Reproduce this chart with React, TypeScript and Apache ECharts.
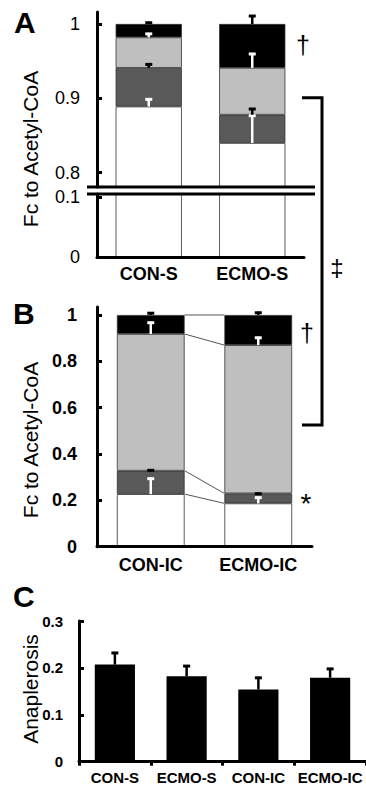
import React, { useEffect, useRef } from "react";
import * as echarts from "echarts";

// ---------- Data ----------
const catA = ["CON-S", "ECMO-S"];
const catB = ["CON-IC", "ECMO-IC"];
const catC = ["CON-S", "ECMO-S", "CON-IC", "ECMO-IC"];

// Panel A segment fractions (bottom -> top): white, dark gray, light gray, black
const whiteA = [0.889, 0.84];
const darkA = [0.052, 0.038];
const lightA = [0.041, 0.063];
const blackA = [0.018, 0.059];
const whiteErrA = [0.011, 0.038];
const darkErrA = [0.006, 0.009];
const lightErrA = [0.006, 0.02];
const blackErrA = [0.003, 0.012];

// Panel B
const whiteB = [0.227, 0.187];
const darkB = [0.101, 0.043];
const lightB = [0.59, 0.64];
const blackB = [0.082, 0.13];
const whiteErrB = [0.071, 0.029];
const darkErrB = [0.006, 0.003];
const lightErrB = [0.053, 0.036];
const blackErrB = [0.012, 0.014];

// Panel C
const anaplerosis = [0.207, 0.182, 0.154, 0.179];
const anaplerosisErr = [0.027, 0.024, 0.027, 0.021];

// Tick labels
const ticksAUpper = [0.8, 0.9, 1];
const ticksALower = [0, 0.1];
const ticksB = [0, 0.2, 0.4, 0.6, 0.8, 1];
const ticksC = [0, 0.1, 0.2, 0.3];

const FONT = '"Liberation Sans", Arial, Helvetica, sans-serif';
const WHITE = "#ffffff";
const DARK = "#595959";
const LIGHT = "#bfbfbf";
const BLACK = "#000000";

function buildErrors(
  segs: number[][],
  errs: number[][],
  colors: number[]
): number[][] {
  const out: number[][] = [];
  const n = segs[0].length;
  for (let i = 0; i < n; i++) {
    let cum = 0;
    for (let s = 0; s < segs.length; s++) {
      cum += segs[s][i];
      out.push([i, cum, cum + errs[s][i], colors[s]]);
    }
  }
  return out;
}

function cumTops(segs: number[][], i: number): number[] {
  const r: number[] = [];
  let c = 0;
  for (let s = 0; s < segs.length; s++) {
    c += segs[s][i];
    r.push(c);
  }
  return r;
}

const errRender = (capHalf: number) => (params: any, api: any) => {
  const cat = api.value(0);
  const lo = api.value(1);
  const hi = api.value(2);
  const c = api.value(3);
  const p0 = api.coord([cat, lo]);
  const p1 = api.coord([cat, hi]);
  const color = c ? BLACK : WHITE;
  return {
    type: "group",
    children: [
      {
        type: "line",
        shape: { x1: p0[0], y1: p0[1], x2: p1[0], y2: p1[1] },
        style: { stroke: color, lineWidth: 2.5 },
      },
      {
        type: "line",
        shape: { x1: p1[0] - capHalf, y1: p1[1] + 1, x2: p1[0] + capHalf, y2: p1[1] + 1 },
        style: { stroke: color, lineWidth: 3 },
      },
    ],
  };
};

export default function App() {
  const ref = useRef<HTMLDivElement>(null);
  useEffect(() => {
    if (!ref.current) return;
    const chart = echarts.init(ref.current, null, { renderer: "svg" });

    const segsA = [whiteA, darkA, lightA, blackA];
    const errsA = [whiteErrA, darkErrA, lightErrA, blackErrA];
    const segsB = [whiteB, darkB, lightB, blackB];
    const errsB = [whiteErrB, darkErrB, lightErrB, blackErrB];
    const errColors = [0, 1, 0, 1];
    const errDataA = buildErrors(segsA, errsA, errColors);
    const errDataB = buildErrors(segsB, errsB, errColors);
    const t0 = cumTops(segsB, 0);
    const t1 = cumTops(segsB, 1);
    const connData = t0.map((v, k) => [v, t1[k]]);
    const errDataC = anaplerosis.map((v, i) => [i, v, v + anaplerosisErr[i], 1]);

    const fmt = (v: number) => String(Math.round(v * 100) / 100);

    const yBase = (extra: any) => ({
      type: "value",
      splitLine: { show: false },
      axisLine: { show: true, lineStyle: { color: BLACK, width: 3 } },
      ...extra,
    });

    const barStyle = (color: string) => ({
      color,
      borderColor: "#333",
      borderWidth: 0.8,
    });

    const stacked = (
      names: string[],
      segs: number[][],
      colors: string[],
      xi: number,
      stack: string,
      bw: string
    ) =>
      segs.map((d, s) => ({
        type: "bar",
        name: names[s],
        xAxisIndex: xi,
        yAxisIndex: xi,
        stack,
        data: d,
        barWidth: bw,
        itemStyle: barStyle(colors[s]),
        silent: true,
      }));

    const segNames = ["white", "dark", "light", "black"];
    const segColors = [WHITE, DARK, LIGHT, BLACK];

    const option: any = {
      animation: false,
      grid: [
        { left: 97, top: 12, width: 207, height: 175 },
        { left: 97, top: 194, width: 207, height: 63 },
        { left: 97, top: 307, width: 215, height: 239.7 },
        { left: 79, top: 621, width: 287, height: 140.7 },
      ],
      xAxis: [
        { gridIndex: 0, type: "category", data: catA, show: false },
        {
          gridIndex: 1,
          type: "category",
          data: catA,
          z: 5,
          axisLine: { lineStyle: { color: BLACK, width: 3 } },
          axisTick: { show: false },
          axisLabel: { color: BLACK, fontSize: 18, fontWeight: "bold", fontFamily: FONT, margin: 8, interval: 0 },
        },
        {
          gridIndex: 2,
          type: "category",
          data: catB,
          z: 5,
          axisLine: { lineStyle: { color: BLACK, width: 3 } },
          axisTick: { show: false },
          axisLabel: { color: BLACK, fontSize: 18, fontWeight: "bold", fontFamily: FONT, margin: 9, interval: 0 },
        },
        {
          gridIndex: 3,
          type: "category",
          data: catC,
          z: 5,
          axisLine: { lineStyle: { color: BLACK, width: 3 } },
          axisTick: { show: true, length: 4, interval: 0, lineStyle: { color: BLACK, width: 3 } },
          axisLabel: { color: BLACK, fontSize: 15, fontWeight: "bold", fontFamily: FONT, margin: 8, interval: 0, hideOverlap: false },
        },
      ],
      yAxis: [
        yBase({
          gridIndex: 0,
          min: 0.7808,
          max: 1.0161,
          axisTick: { show: true, inside: true, length: 5, customValues: ticksAUpper, lineStyle: { color: BLACK, width: 3 } },
          axisLabel: { customValues: ticksAUpper, formatter: fmt, color: BLACK, fontSize: 18, fontFamily: FONT, margin: 17 },
        }),
        yBase({
          gridIndex: 1,
          min: 0,
          max: 0.105,
          axisTick: { show: true, inside: true, length: 5, customValues: [0.1], lineStyle: { color: BLACK, width: 3 } },
          axisLabel: { customValues: ticksALower, formatter: fmt, color: BLACK, fontSize: 18, fontFamily: FONT, margin: 17 },
        }),
        yBase({
          gridIndex: 2,
          min: 0,
          max: 1.0345,
          axisTick: { show: true, inside: true, length: 5, customValues: ticksB, lineStyle: { color: BLACK, width: 3 } },
          axisLabel: { customValues: ticksB, formatter: fmt, color: BLACK, fontSize: 18, fontWeight: "bold", fontFamily: FONT, margin: 20 },
        }),
        yBase({
          gridIndex: 3,
          min: 0,
          max: 0.3,
          axisTick: { show: true, inside: true, length: 5, customValues: ticksC, lineStyle: { color: BLACK, width: 3 } },
          axisLabel: { customValues: ticksC, formatter: fmt, color: BLACK, fontSize: 15, fontWeight: "bold", fontFamily: FONT, margin: 16 },
        }),
      ],
      series: [
        ...stacked(segNames, segsA, segColors, 0, "a", "64%"),
        {
          type: "bar",
          name: "whiteLower",
          xAxisIndex: 1,
          yAxisIndex: 1,
          data: whiteA,
          barWidth: "64%",
          itemStyle: barStyle(WHITE),
          silent: true,
        },
        {
          type: "custom",
          name: "errA",
          xAxisIndex: 0,
          yAxisIndex: 0,
          data: errDataA,
          encode: { x: 0, y: 1 },
          renderItem: errRender(3.5),
          z: 4,
          silent: true,
        },
        ...stacked(segNames, segsB, segColors, 2, "b", "63%"),
        {
          type: "custom",
          name: "connB",
          xAxisIndex: 2,
          yAxisIndex: 2,
          data: connData,
          encode: { y: [0, 1] },
          renderItem: (params: any, api: any) => {
            const v0 = api.value(0);
            const v1 = api.value(1);
            const p0 = api.coord([0, v0]);
            const p1 = api.coord([1, v1]);
            const half = (api.size([1, 0])[0] * 0.63) / 2;
            return {
              type: "line",
              shape: { x1: p0[0] + half, y1: p0[1], x2: p1[0] - half, y2: p1[1] },
              style: { stroke: "#555", lineWidth: 1 },
            };
          },
          z: 3,
          silent: true,
        },
        {
          type: "custom",
          name: "errB",
          xAxisIndex: 2,
          yAxisIndex: 2,
          data: errDataB,
          encode: { x: 0, y: 1 },
          renderItem: errRender(3.5),
          z: 4,
          silent: true,
        },
        {
          type: "bar",
          name: "anaplerosis",
          xAxisIndex: 3,
          yAxisIndex: 3,
          data: anaplerosis,
          barWidth: "56%",
          itemStyle: { color: BLACK },
          silent: true,
        },
        {
          type: "custom",
          name: "errC",
          xAxisIndex: 3,
          yAxisIndex: 3,
          data: errDataC,
          encode: { x: 0, y: 1 },
          renderItem: errRender(3.5),
          z: 4,
          silent: true,
        },
      ],
      graphic: [
        // axis break
        { type: "line", z: 100, shape: { x1: 87, y1: 187, x2: 315, y2: 187 }, style: { stroke: BLACK, lineWidth: 3 } },
        { type: "line", z: 100, shape: { x1: 87, y1: 194, x2: 315, y2: 194 }, style: { stroke: BLACK, lineWidth: 3 } },
        // bracket
        {
          type: "polyline",
          z: 100,
          shape: { points: [[302, 97.7], [322, 97.7], [322, 425], [302, 425]] },
          style: { stroke: BLACK, lineWidth: 3, fill: "none" },
        },
        // panel letters
        { type: "text", z: 100, x: 14, y: 22, style: { text: "A", font: `bold 30px ${FONT}`, fill: BLACK, align: "left", verticalAlign: "middle" } },
        { type: "text", z: 100, x: 13, y: 313, style: { text: "B", font: `bold 30px ${FONT}`, fill: BLACK, align: "left", verticalAlign: "middle" } },
        { type: "text", z: 100, x: 13, y: 596, style: { text: "C", font: `bold 30px ${FONT}`, fill: BLACK, align: "left", verticalAlign: "middle" } },
        // axis titles
        { type: "text", z: 100, x: 30, y: 149, rotation: Math.PI / 2, style: { text: "Fc to Acetyl-CoA", font: `21px ${FONT}`, fill: BLACK, align: "center", verticalAlign: "middle" } },
        { type: "text", z: 100, x: 30, y: 440, rotation: Math.PI / 2, style: { text: "Fc to Acetyl-CoA", font: `21px ${FONT}`, fill: BLACK, align: "center", verticalAlign: "middle" } },
        { type: "text", z: 100, x: 30, y: 689, rotation: Math.PI / 2, style: { text: "Anaplerosis", font: `21px ${FONT}`, fill: BLACK, align: "center", verticalAlign: "middle" } },
        // significance marks
        { type: "text", z: 100, x: 303, y: 45, style: { text: "†", font: `25px ${FONT}`, fill: BLACK, align: "center", verticalAlign: "middle" } },
        { type: "text", z: 100, x: 307, y: 333, style: { text: "†", font: `25px ${FONT}`, fill: BLACK, align: "center", verticalAlign: "middle" } },
        { type: "text", z: 100, x: 306, y: 503, style: { text: "*", font: `28px ${FONT}`, fill: BLACK, align: "center", verticalAlign: "middle" } },
        { type: "text", z: 100, x: 337, y: 267, style: { text: "‡", font: `24px ${FONT}`, fill: BLACK, align: "center", verticalAlign: "middle" } },
      ],
    };

    chart.setOption(option);
    return () => chart.dispose();
  }, []);

  return (
    <div
      ref={ref}
      style={{ position: "fixed", left: 0, top: 0, width: 366, height: 793, background: "#fff" }}
    />
  );
}
